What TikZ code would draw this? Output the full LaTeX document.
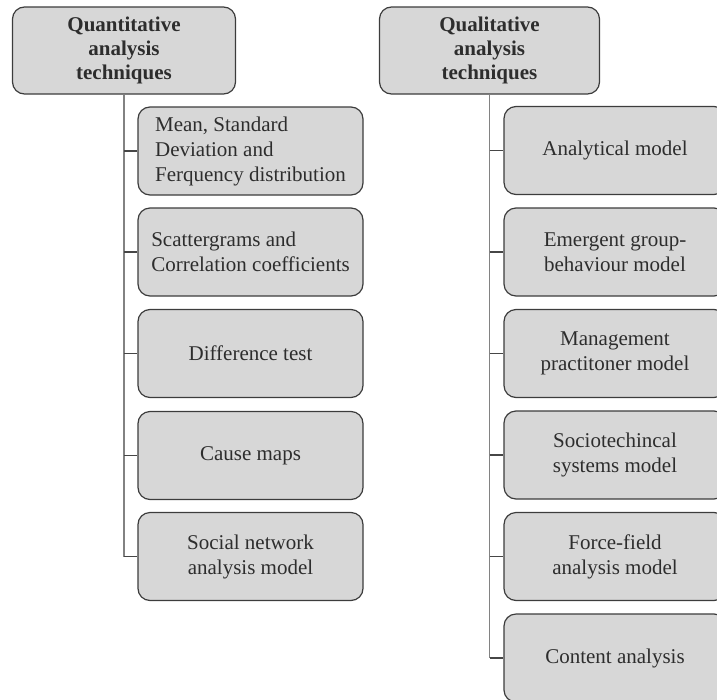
\documentclass[tikz,border=0pt]{standalone}
\usepackage{fontspec}
\setmainfont{Liberation Serif}
\begin{document}
\begin{tikzpicture}[x=1pt,y=-1pt,
  boxfill/.style={fill={rgb,255:red,215;green,215;blue,215}},
  techbox/.style={boxfill,draw={rgb,255:red,60;green,60;blue,60},line width=1.2pt,
    rounded corners=12pt,inner sep=0pt,text={rgb,255:red,45;green,45;blue,45},
    align=center,font=\fontsize{21pt}{25pt}\selectfont},
  headbox/.style={techbox,minimum height=87pt,font=\fontsize{21pt}{24pt}\selectfont\bfseries},
  leftitem/.style={techbox,minimum width=225pt,minimum height=88pt},
  rightitem/.style={techbox,minimum width=222pt,minimum height=88pt},
  trunk/.style={draw={rgb,255:red,130;green,130;blue,130},line width=1.5pt},
  branch/.style={draw={rgb,255:red,70;green,70;blue,70},line width=1.2pt}]
\useasboundingbox (0,0) rectangle (717,699);
\clip (0,0) rectangle (717,699);

% quantitative column
\node[headbox,minimum width=223pt] (lh) at (124,50.5) {Quantitative\\analysis\\techniques};
\node[leftitem,align=left] (l1) at (250.5,151) {Mean, Standard\\Deviation and\\Ferquency distribution};
\node[leftitem,align=left] (l2) at (250.5,252) {Scattergrams and\\Correlation coefficients};
\node[leftitem] (l3) at (250.5,353.5) {Difference test};
\node[leftitem] (l4) at (250.5,455.5) {Cause maps};
\node[leftitem] (l5) at (250.5,556.5) {Social network\\analysis model};

% qualitative column
\node[headbox,minimum width=220pt] (rh) at (489.5,50.5) {Qualitative\\analysis\\techniques};
\node[rightitem] (r1) at (615,150.5) {Analytical model};
\node[rightitem] (r2) at (615,252) {Emergent group-\\behaviour model};
\node[rightitem] (r3) at (615,353.5) {Management\\practitoner model};
\node[rightitem] (r4) at (615,455) {Sociotechincal\\systems model};
\node[rightitem] (r5) at (615,556.5) {Force-field\\analysis model};
\node[rightitem] (r6) at (615,658) {Content analysis};

% connectors
\draw[trunk] (lh.south) -- (lh.south |- l5.west);
\foreach \n in {l1,l2,l3,l4,l5}
  \draw[branch] (lh.south |- \n.west) -- (\n.west);
\draw[trunk] (rh.south) -- (rh.south |- r6.west);
\foreach \n in {r1,r2,r3,r4,r5,r6}
  \draw[branch] (rh.south |- \n.west) -- (\n.west);
\end{tikzpicture}
\end{document}
